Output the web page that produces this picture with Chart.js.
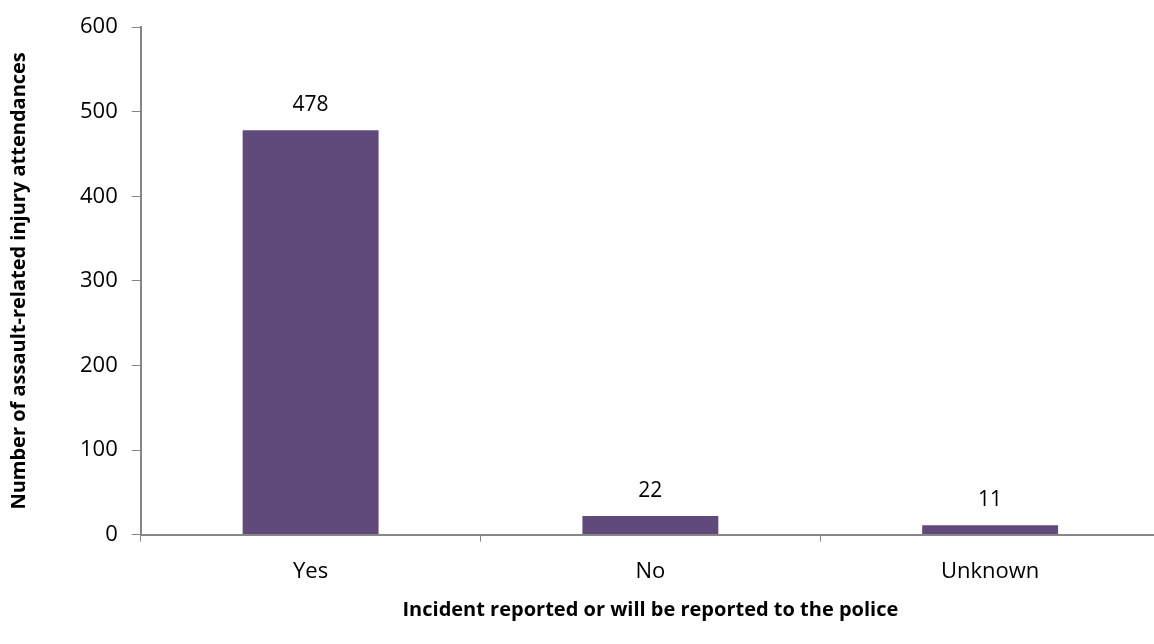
<!DOCTYPE html>
<html>
<head>
<meta charset="utf-8">
<script src="https://cdn.jsdelivr.net/npm/chart.js@4/dist/chart.umd.min.js"></script>
<style>
  html, body { margin: 0; padding: 0; background: #fff; overflow: hidden; }
  #wrap { width: 1160px; height: 644px; }
</style>
</head>
<body>
<div id="wrap"><canvas id="chart"></canvas></div>
<script>
// chart data
const categories = ["Yes", "No", "Unknown"];
const attendances = [478, 22, 11];
const yTicks = [0, 100, 200, 300, 400, 500, 600];

const axisColor = "#868686";
const barColor = "#604A7B";
const fontFamily = "'Open Sans', sans-serif";

// draws the value above each bar
const valueLabels = {
  id: "valueLabels",
  afterDatasetsDraw(chart) {
    const ctx = chart.ctx;
    const meta = chart.getDatasetMeta(0);
    ctx.save();
    ctx.font = "21px " + fontFamily;
    ctx.fillStyle = "#000";
    ctx.textAlign = "center";
    ctx.textBaseline = "alphabetic";
    meta.data.forEach((bar, i) => {
      ctx.fillText(attendances[i], bar.x, bar.y - 19);
    });
    ctx.restore();
  }
};

new Chart(document.getElementById("chart"), {
  type: "bar",
  data: {
    labels: categories,
    datasets: [{
      data: attendances,
      backgroundColor: barColor,
      categoryPercentage: 1,
      barPercentage: 0.4
    }]
  },
  options: {
    responsive: true,
    maintainAspectRatio: false,
    animation: false,
    layout: { padding: { top: 8, left: 7, right: 0, bottom: 22 } },
    plugins: {
      legend: { display: false },
      tooltip: { enabled: false }
    },
    scales: {
      x: {
        offset: true,
        grid: {
          offset: true,
          drawOnChartArea: false,
          drawTicks: true,
          tickLength: 7,
          color: axisColor
        },
        border: { color: axisColor, width: 2 },
        ticks: {
          color: "#000",
          padding: 17,
          font: { family: fontFamily, size: 22 }
        },
        title: {
          display: true,
          text: "Incident reported or will be reported to the police",
          color: "#000",
          padding: { top: -4, bottom: 0 },
          font: { family: fontFamily, size: 20, weight: "bold" }
        }
      },
      y: {
        min: 0,
        max: 600,
        afterBuildTicks(scale) {
          scale.ticks = yTicks.map(v => ({ value: v }));
        },
        grid: {
          drawOnChartArea: false,
          drawTicks: true,
          tickLength: 9,
          color: axisColor
        },
        border: { color: axisColor, width: 2 },
        ticks: {
          color: "#000",
          padding: 14,
          font: { family: fontFamily, size: 22 }
        },
        title: {
          display: true,
          text: "Number of assault-related injury attendances",
          color: "#000",
          padding: { top: 0, bottom: 35 },
          font: { family: fontFamily, size: 20, weight: "bold" }
        }
      }
    }
  },
  plugins: [valueLabels]
});
</script>
</body>
</html>
